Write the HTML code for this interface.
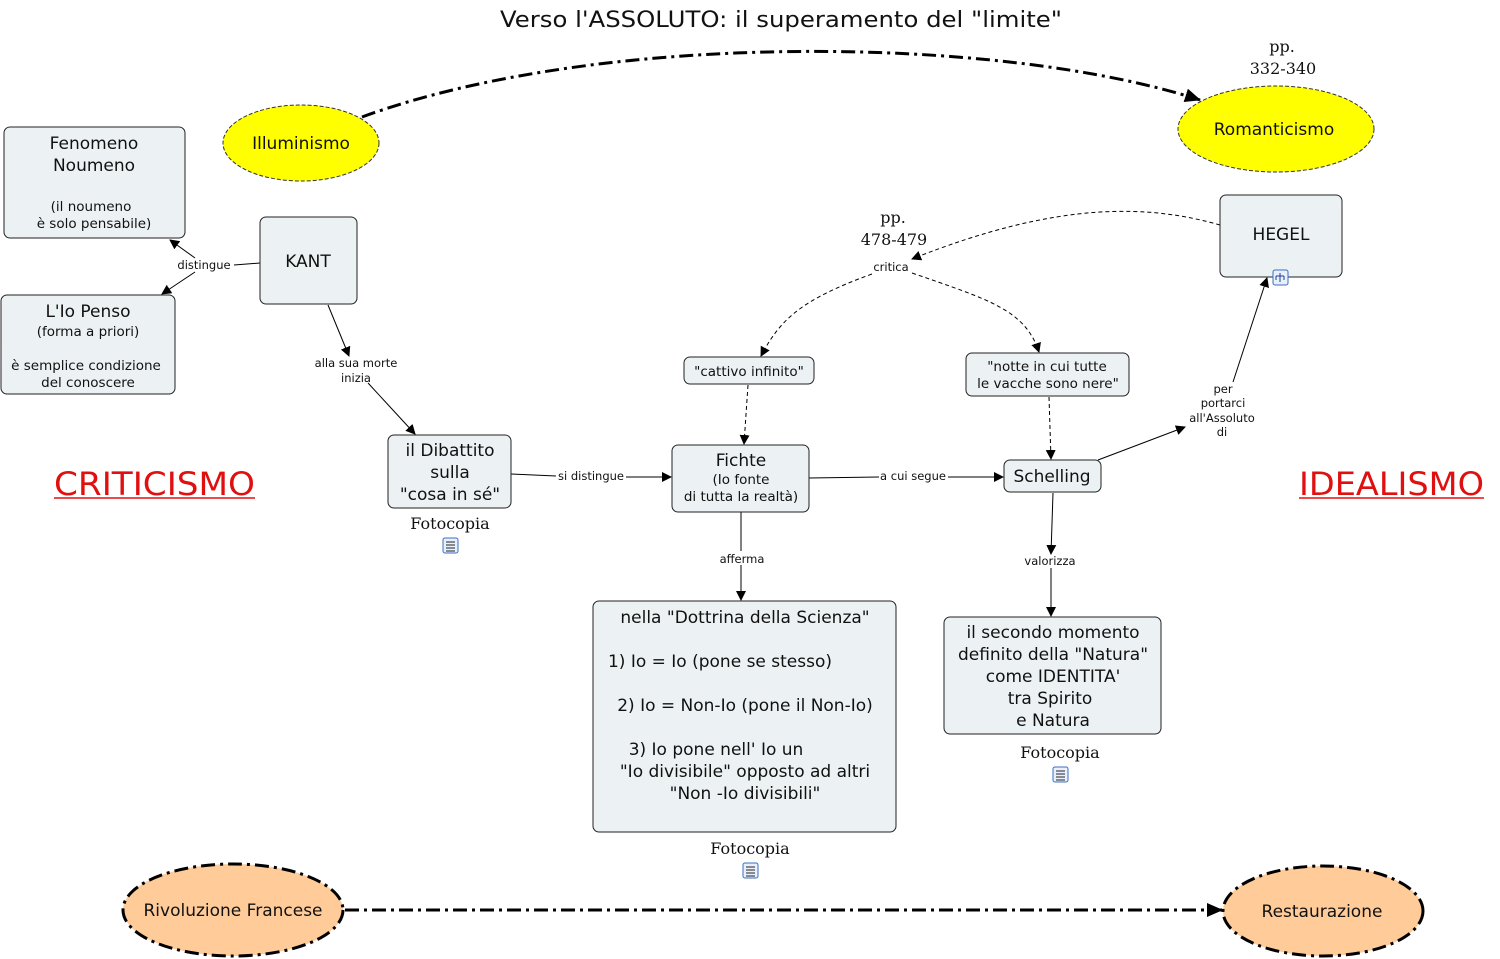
<!DOCTYPE html>
<html><head><meta charset="utf-8"><style>
html,body{margin:0;padding:0;background:#fff;}
svg{display:block;}
.s{font-family:"DejaVu Sans","Liberation Sans",sans-serif;fill:#111;}
.r{font-family:"DejaVu Serif","Liberation Serif",serif;fill:#111;}
.box{fill:#ecf2f4;stroke:#222;stroke-width:1;}
</style></head><body>
<svg width="1500" height="959" viewBox="0 0 1500 959" xmlns="http://www.w3.org/2000/svg">
<defs>
<marker id="a" markerWidth="10" markerHeight="10" refX="9" refY="5" orient="auto" markerUnits="userSpaceOnUse"><path d="M0,0 L10,5 L0,10 z" fill="#000"/></marker>
<marker id="b" markerWidth="16" markerHeight="14" refX="15" refY="7" orient="auto" markerUnits="userSpaceOnUse"><path d="M0,0 L16,7 L0,14 z" fill="#000"/></marker>
</defs>

<text class="s" x="781" y="27" font-size="22" text-anchor="middle" textLength="562" lengthAdjust="spacingAndGlyphs">Verso l'ASSOLUTO: il superamento del "limite"</text>

<path d="M362,117 C600,30 1000,35 1200,100" fill="none" stroke="#000" stroke-width="3" stroke-dasharray="14,5,3,5" marker-end="url(#b)"/>
<line x1="345" y1="910" x2="1222" y2="910" stroke="#000" stroke-width="3" stroke-dasharray="14,5,3,5" marker-end="url(#b)"/>

<g stroke="#000" stroke-width="1" fill="none">
<line x1="260" y1="263" x2="234" y2="265"/>
<line x1="195" y1="258" x2="170" y2="240" marker-end="url(#a)"/>
<line x1="195" y1="272" x2="162" y2="294" marker-end="url(#a)"/>
<line x1="328" y1="305" x2="349" y2="356" marker-end="url(#a)"/>
<line x1="368" y1="383" x2="415" y2="434" marker-end="url(#a)"/>
<line x1="511" y1="474" x2="556" y2="476"/>
<line x1="626" y1="477" x2="671" y2="477" marker-end="url(#a)"/>
<line x1="809" y1="478" x2="879" y2="477"/>
<line x1="948" y1="477" x2="1003" y2="477" marker-end="url(#a)"/>
<line x1="741" y1="512" x2="741" y2="551"/>
<line x1="741" y1="565" x2="741" y2="600" marker-end="url(#a)"/>
<line x1="1053" y1="493" x2="1051" y2="554" marker-end="url(#a)"/>
<line x1="1051" y1="568" x2="1051" y2="616" marker-end="url(#a)"/>
<line x1="1098" y1="460" x2="1185" y2="427" marker-end="url(#a)"/>
<line x1="1233" y1="382" x2="1267" y2="278" marker-end="url(#a)"/>
</g>
<g stroke="#000" stroke-width="1" fill="none" stroke-dasharray="4,3">
<path d="M1220,225 C1150,205 1060,200 912,259" marker-end="url(#a)"/>
<path d="M872,274 C800,300 780,320 761,356" marker-end="url(#a)"/>
<path d="M912,273 C990,300 1025,310 1039,352" marker-end="url(#a)"/>
<line x1="748" y1="385" x2="744" y2="444" marker-end="url(#a)"/>
<line x1="1049" y1="397" x2="1051" y2="459" marker-end="url(#a)"/>
</g>

<ellipse cx="301" cy="143" rx="78" ry="38" fill="#ffff00" stroke="#333" stroke-dasharray="4,2"/>
<text class="s" x="301" y="149" font-size="17" text-anchor="middle">Illuminismo</text>
<ellipse cx="1276" cy="129" rx="98" ry="43" fill="#ffff00" stroke="#333" stroke-dasharray="4,2"/>
<text class="s" x="1274" y="135" font-size="17" text-anchor="middle">Romanticismo</text>
<ellipse cx="233" cy="910" rx="110" ry="46" fill="#ffcc99" stroke="#000" stroke-width="3" stroke-dasharray="14,5,3,5"/>
<text class="s" x="233" y="916" font-size="17" text-anchor="middle">Rivoluzione Francese</text>
<ellipse cx="1323" cy="911" rx="100" ry="45" fill="#ffcc99" stroke="#000" stroke-width="3" stroke-dasharray="14,5,3,5"/>
<text class="s" x="1322" y="917" font-size="17" text-anchor="middle">Restaurazione</text>

<rect class="box" x="4" y="127" width="181" height="111" rx="6"/>
<text class="s" text-anchor="middle" x="94"><tspan x="94" y="149" font-size="17">Fenomeno</tspan><tspan x="94" y="171" font-size="17">Noumeno</tspan><tspan x="91" y="211" font-size="13.5">(il noumeno</tspan><tspan x="94" y="228" font-size="13.5">è solo pensabile)</tspan></text>

<rect class="box" x="260" y="217" width="97" height="87" rx="6"/>
<text class="s" x="308" y="267" font-size="17" text-anchor="middle">KANT</text>

<rect class="box" x="1" y="295" width="174" height="99" rx="6"/>
<text class="s" text-anchor="middle"><tspan x="88" y="317" font-size="17">L'Io Penso</tspan><tspan x="88" y="336" font-size="13.5">(forma a priori)</tspan><tspan x="86" y="370" font-size="13.5">è semplice condizione</tspan><tspan x="88" y="387" font-size="13.5">del conoscere</tspan></text>

<rect class="box" x="388" y="435" width="123" height="73" rx="6"/>
<text class="s" text-anchor="middle" font-size="17"><tspan x="450" y="456">il Dibattito</tspan><tspan x="450" y="478">sulla</tspan><tspan x="450" y="500">"cosa in sé"</tspan></text>

<rect class="box" x="672" y="445" width="137" height="67" rx="6"/>
<text class="s" text-anchor="middle"><tspan x="741" y="466" font-size="17">Fichte</tspan><tspan x="741" y="484" font-size="13.5">(Io fonte</tspan><tspan x="741" y="501" font-size="13.5">di tutta la realtà)</tspan></text>

<rect class="box" x="1004" y="460" width="97" height="32" rx="6"/>
<text class="s" x="1052" y="482" font-size="17" text-anchor="middle">Schelling</text>

<rect class="box" x="684" y="357" width="130" height="27" rx="6"/>
<text class="s" x="749" y="376" font-size="13.5" text-anchor="middle">"cattivo infinito"</text>

<rect class="box" x="966" y="353" width="163" height="43" rx="6"/>
<text class="s" text-anchor="middle" font-size="13.5"><tspan x="1047" y="371">"notte in cui tutte</tspan><tspan x="1048" y="388">le vacche sono nere"</tspan></text>

<rect class="box" x="1220" y="195" width="122" height="82" rx="6"/>
<text class="s" x="1281" y="240" font-size="17" text-anchor="middle">HEGEL</text>
<rect x="1273" y="270" width="15" height="15" rx="2" fill="#e8f0ff" stroke="#3a6fc0"/>
<path d="M1280,273 v3 M1276,276 h8 M1276,276 v4 M1284,276 v4 M1280,276 v6" stroke="#1a3f90" stroke-width="1" fill="none"/>

<rect class="box" x="593" y="601" width="303" height="231" rx="6"/>
<text class="s" text-anchor="middle" font-size="17"><tspan x="745" y="623">nella "Dottrina della Scienza"</tspan><tspan x="720" y="667">1) Io = Io (pone se stesso)</tspan><tspan x="745" y="711">2) Io = Non-Io (pone il Non-Io)</tspan><tspan x="716" y="755">3) Io  pone nell' Io un</tspan><tspan x="745" y="777">"Io divisibile" opposto ad altri</tspan><tspan x="745" y="799">"Non -Io divisibili"</tspan></text>

<rect class="box" x="944" y="617" width="217" height="117" rx="6"/>
<text class="s" text-anchor="middle" font-size="17"><tspan x="1053" y="638">il secondo momento</tspan><tspan x="1053" y="660">definito della "Natura"</tspan><tspan x="1053" y="682">come IDENTITA'</tspan><tspan x="1050" y="704">tra Spirito</tspan><tspan x="1053" y="726">e Natura</tspan></text>

<g class="s" font-size="11.5" text-anchor="middle">
<text x="204" y="269" class="s">distingue</text>
<text x="356" y="367" class="s">alla sua morte</text>
<text x="356" y="382" class="s">inizia</text>
<text x="591" y="480" class="s">si distingue</text>
<text x="913" y="480" class="s">a cui segue</text>
<text x="742" y="563" class="s">afferma</text>
<text x="1050" y="565" class="s">valorizza</text>
<text x="891" y="271" class="s">critica</text>
<text x="1223" y="393" class="s">per</text>
<text x="1223" y="407" class="s">portarci</text>
<text x="1222" y="422" class="s">all'Assoluto</text>
<text x="1222" y="436" class="s">di</text>
</g>

<g class="r" font-size="16" text-anchor="middle">
<text x="1282" y="52" class="r">pp.</text>
<text x="1283" y="74" class="r">332-340</text>
<text x="893" y="223" class="r">pp.</text>
<text x="894" y="245" class="r">478-479</text>
<text x="450" y="529" class="r">Fotocopia</text>
<text x="750" y="854" class="r">Fotocopia</text>
<text x="1060" y="758" class="r">Fotocopia</text>
</g>
<g fill="#e8f0ff" stroke="#3a6fc0">
<rect x="443" y="538" width="15" height="15" rx="2"/>
<rect x="743" y="863" width="15" height="15" rx="2"/>
<rect x="1053" y="767" width="15" height="15" rx="2"/>
</g>
<g stroke="#222" fill="none" stroke-width="1">
<path d="M446,542 h9 M446,545 h9 M446,548 h9 M446,551 h9"/>
<path d="M746,867 h9 M746,870 h9 M746,873 h9 M746,876 h9"/>
<path d="M1056,771 h9 M1056,774 h9 M1056,777 h9 M1056,780 h9"/>
</g>

<text x="54" y="495" font-family="DejaVu Sans, Liberation Sans, sans-serif" font-size="32" fill="#e01010" textLength="201" lengthAdjust="spacingAndGlyphs">CRITICISMO</text>
<line x1="54" y1="498" x2="255" y2="498" stroke="#e01010" stroke-width="1.5"/>
<text x="1299" y="495" font-family="DejaVu Sans, Liberation Sans, sans-serif" font-size="32" fill="#e01010" textLength="185" lengthAdjust="spacingAndGlyphs">IDEALISMO</text>
<line x1="1299" y1="498" x2="1484" y2="498" stroke="#e01010" stroke-width="1.5"/>
</svg>
</body></html>
